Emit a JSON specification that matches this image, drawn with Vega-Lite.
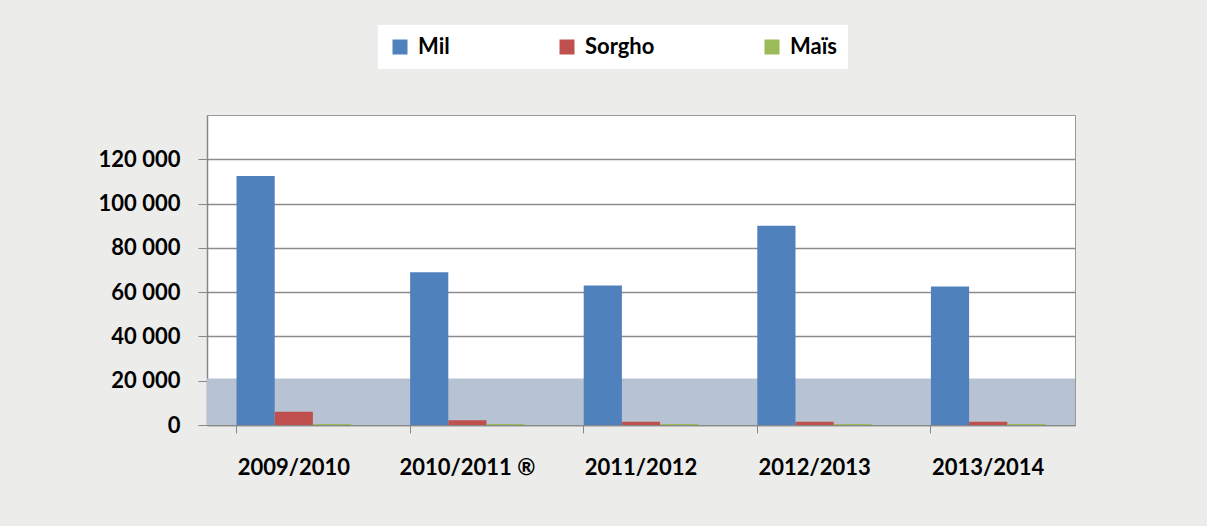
{
  "$schema": "https://vega.github.io/schema/vega-lite/v6.json",
  "width": 868,
  "height": 310,
  "autosize": {"type": "none"},
  "padding": {"left": 207, "top": 115, "right": 132, "bottom": 101},
  "background": "#ececea",
  "config": {
    "locale": {"number": {"decimal": ",", "thousands": " ", "grouping": [3], "currency": ["", ""]}},
    "view": {"fill": "white", "stroke": "#9a9a9a", "strokeWidth": 1},
    "font": "Lato"
  },
  "datasets": {
    "prod": [
      {"campagne": "2009/2010", "culture": "Mil", "production": 112500},
      {"campagne": "2009/2010", "culture": "Sorgho", "production": 6000},
      {"campagne": "2009/2010", "culture": "Maïs", "production": 400},
      {"campagne": "2010/2011 ®", "culture": "Mil", "production": 69000},
      {"campagne": "2010/2011 ®", "culture": "Sorgho", "production": 2200},
      {"campagne": "2010/2011 ®", "culture": "Maïs", "production": 400},
      {"campagne": "2011/2012", "culture": "Mil", "production": 63000},
      {"campagne": "2011/2012", "culture": "Sorgho", "production": 1500},
      {"campagne": "2011/2012", "culture": "Maïs", "production": 400},
      {"campagne": "2012/2013", "culture": "Mil", "production": 90000},
      {"campagne": "2012/2013", "culture": "Sorgho", "production": 1500},
      {"campagne": "2012/2013", "culture": "Maïs", "production": 400},
      {"campagne": "2013/2014", "culture": "Mil", "production": 62500},
      {"campagne": "2013/2014", "culture": "Sorgho", "production": 1500},
      {"campagne": "2013/2014", "culture": "Maïs", "production": 400}
    ],
    "floor": [{"bas": 0, "haut": 21000}]
  },
  "layer": [
    {
      "data": {"name": "floor"},
      "mark": {"type": "rect", "color": "#b7c3d3"},
      "encoding": {
        "y": {"field": "bas", "type": "quantitative", "scale": {"domain": [0, 140000], "nice": false}},
        "y2": {"field": "haut"}
      }
    },
    {
      "data": {"name": "prod"},
      "mark": {"type": "bar"},
      "encoding": {
        "x": {
          "field": "campagne", "type": "nominal", "sort": null,
          "scale": {"paddingInner": 0.34, "paddingOuter": 0.17},
          "axis": {
            "title": null, "labelAngle": 0, "labelFont": "Lato", "labelFontWeight": "bold",
            "labelFontSize": 22, "labelColor": "black", "labelPadding": 24, "ticks": true,
            "tickSize": 8, "tickColor": "#888888", "domainColor": "#888888", "domainWidth": 1.5,
            "bandPosition": 0
          }
        },
        "xOffset": {"field": "culture", "type": "nominal", "sort": ["Mil", "Sorgho", "Maïs"]},
        "y": {
          "field": "production", "type": "quantitative",
          "scale": {"domain": [0, 140000], "nice": false},
          "axis": {
            "title": null, "values": [0, 20000, 40000, 60000, 80000, 100000, 120000],
            "format": ",d", "labelFont": "Lato", "labelFontWeight": "bold", "labelFontSize": 22,
            "labelColor": "black", "labelPadding": 18, "tickSize": 9, "tickColor": "#888888",
            "domainColor": "#888888", "domainWidth": 1.5, "grid": true, "gridColor": "#8c8c8c",
            "gridWidth": 1.5
          }
        },
        "color": {
          "field": "culture", "type": "nominal",
          "scale": {"domain": ["Mil", "Sorgho", "Maïs"], "range": ["#4f81bd", "#c0504d", "#9bbb59"]},
          "legend": {
            "title": null, "orient": "none", "direction": "horizontal",
            "legendX": 171, "legendY": -90, "fillColor": "white", "padding": 11,
            "symbolType": "square", "symbolSize": 225, "symbolStrokeWidth": 0,
            "labelFont": "Lato", "labelFontWeight": "bold", "labelFontSize": 22,
            "labelColor": "black", "labelOffset": 7, "columnPadding": 106
          }
        }
      }
    }
  ]
}
